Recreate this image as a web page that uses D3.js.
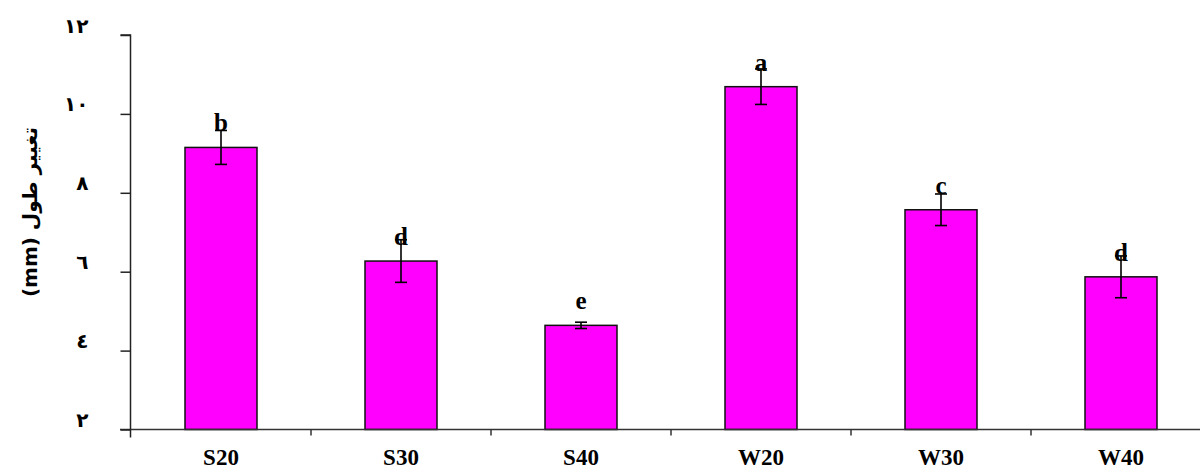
<!DOCTYPE html>
<html>
<head>
<meta charset="utf-8">
<script src="https://cdn.jsdelivr.net/npm/d3@7"></script>
<style>
  html, body { margin: 0; padding: 0; background: #fff; }
  svg { display: block; }
</style>
</head>
<body>
<svg id="chart" width="1200" height="470"></svg>
<script>
// ---- data ----
const categories = ["S20", "S30", "S40", "W20", "W30", "W40"];
const values     = [9.15, 6.27, 4.64, 10.69, 7.57, 5.87];
const errors     = [0.43, 0.54, 0.08, 0.45, 0.40, 0.53];
const letters    = ["b", "d", "e", "a", "c", "d"];
const yTickValues = [2, 4, 6, 8, 10, 12];
const yTickLabels = ["٢", "٤", "٦", "٨", "١٠", "١٢"];
const yTitle = "(mm) تغییر طول";

const svg = d3.select("#chart");

const x = d3.scaleBand().domain(categories).range([131, 1211])
  .paddingInner(0.6).paddingOuter(0.3);
const y = d3.scaleLinear().domain([2, 12]).range([429.5, 35]);

const serif = "'Liberation Serif', 'Times New Roman', serif";

// bars
svg.append("g").selectAll("rect").data(categories).join("rect")
  .attr("x", d => x(d))
  .attr("y", (d, i) => y(values[i]))
  .attr("width", x.bandwidth())
  .attr("height", (d, i) => y(2) - y(values[i]))
  .attr("fill", "#ff00ff")
  .attr("stroke", "#111")
  .attr("stroke-width", 1.5);

// error bars
const eg = svg.append("g").attr("stroke", "#000").attr("stroke-width", 1.6);
categories.forEach((c, i) => {
  const cx = x(c) + x.bandwidth() / 2;
  const hi = y(values[i] + errors[i]), lo = y(values[i] - errors[i]);
  eg.append("line").attr("x1", cx).attr("x2", cx).attr("y1", hi).attr("y2", lo);
  eg.append("line").attr("x1", cx - 6).attr("x2", cx + 6).attr("y1", lo).attr("y2", lo);
  eg.append("line").attr("x1", cx - 6).attr("x2", cx + 6).attr("y1", hi).attr("y2", hi);
});

// letter labels
svg.append("g").selectAll("text").data(categories).join("text")
  .attr("x", d => x(d) + x.bandwidth() / 2)
  .attr("y", (d, i) => y(values[i]) - 16)
  .attr("text-anchor", "middle")
  .attr("font-family", serif)
  .attr("font-weight", "bold")
  .attr("font-size", 25)
  .attr("fill", "#000")
  .text((d, i) => letters[i]);

// x axis
svg.append("line").attr("x1", 120).attr("x2", 1200)
  .attr("y1", y(2)).attr("y2", y(2))
  .attr("stroke", "#333").attr("stroke-width", 1.5);
const bounds = categories.map(c => x(c) - x.step() * 0.3);
svg.append("g").selectAll("line").data(bounds.slice(1)).join("line")
  .attr("x1", d => d).attr("x2", d => d)
  .attr("y1", y(2)).attr("y2", y(2) + 6)
  .attr("stroke", "#333").attr("stroke-width", 1.5);
svg.append("g").selectAll("text").data(categories).join("text")
  .attr("x", d => x(d) + x.bandwidth() / 2)
  .attr("y", 465)
  .attr("text-anchor", "middle")
  .attr("font-family", serif)
  .attr("font-weight", "bold")
  .attr("font-size", 23)
  .attr("fill", "#000")
  .text(d => d);

// y axis
const yAxis = d3.axisLeft(y).tickValues(yTickValues)
  .tickFormat((d, i) => yTickLabels[i]).tickSize(10).tickPadding(32);
const yg = svg.append("g").attr("transform", "translate(130.5,0)").call(yAxis);
yg.select(".domain").attr("stroke", "#222").attr("stroke-width", 1.5)
  .attr("d", `M-10,${y(12)}H0V${y(2) + 8}`);
yg.selectAll(".tick line").attr("stroke", "#222").attr("stroke-width", 1.5);
yg.selectAll(".tick text")
  .attr("font-family", "'DejaVu Sans', sans-serif")
  .attr("font-weight", "bold")
  .attr("font-size", 20)
  .attr("fill", "#000")
  .attr("dy", "-0.15em");

// y title
svg.append("text")
  .attr("transform", `translate(37,212) rotate(-90)`)
  .attr("text-anchor", "middle")
  .attr("font-family", "'DejaVu Sans', sans-serif")
  .attr("font-weight", "bold")
  .attr("font-size", 20)
  .attr("fill", "#000")
  .text(yTitle);
</script>
</body>
</html>
